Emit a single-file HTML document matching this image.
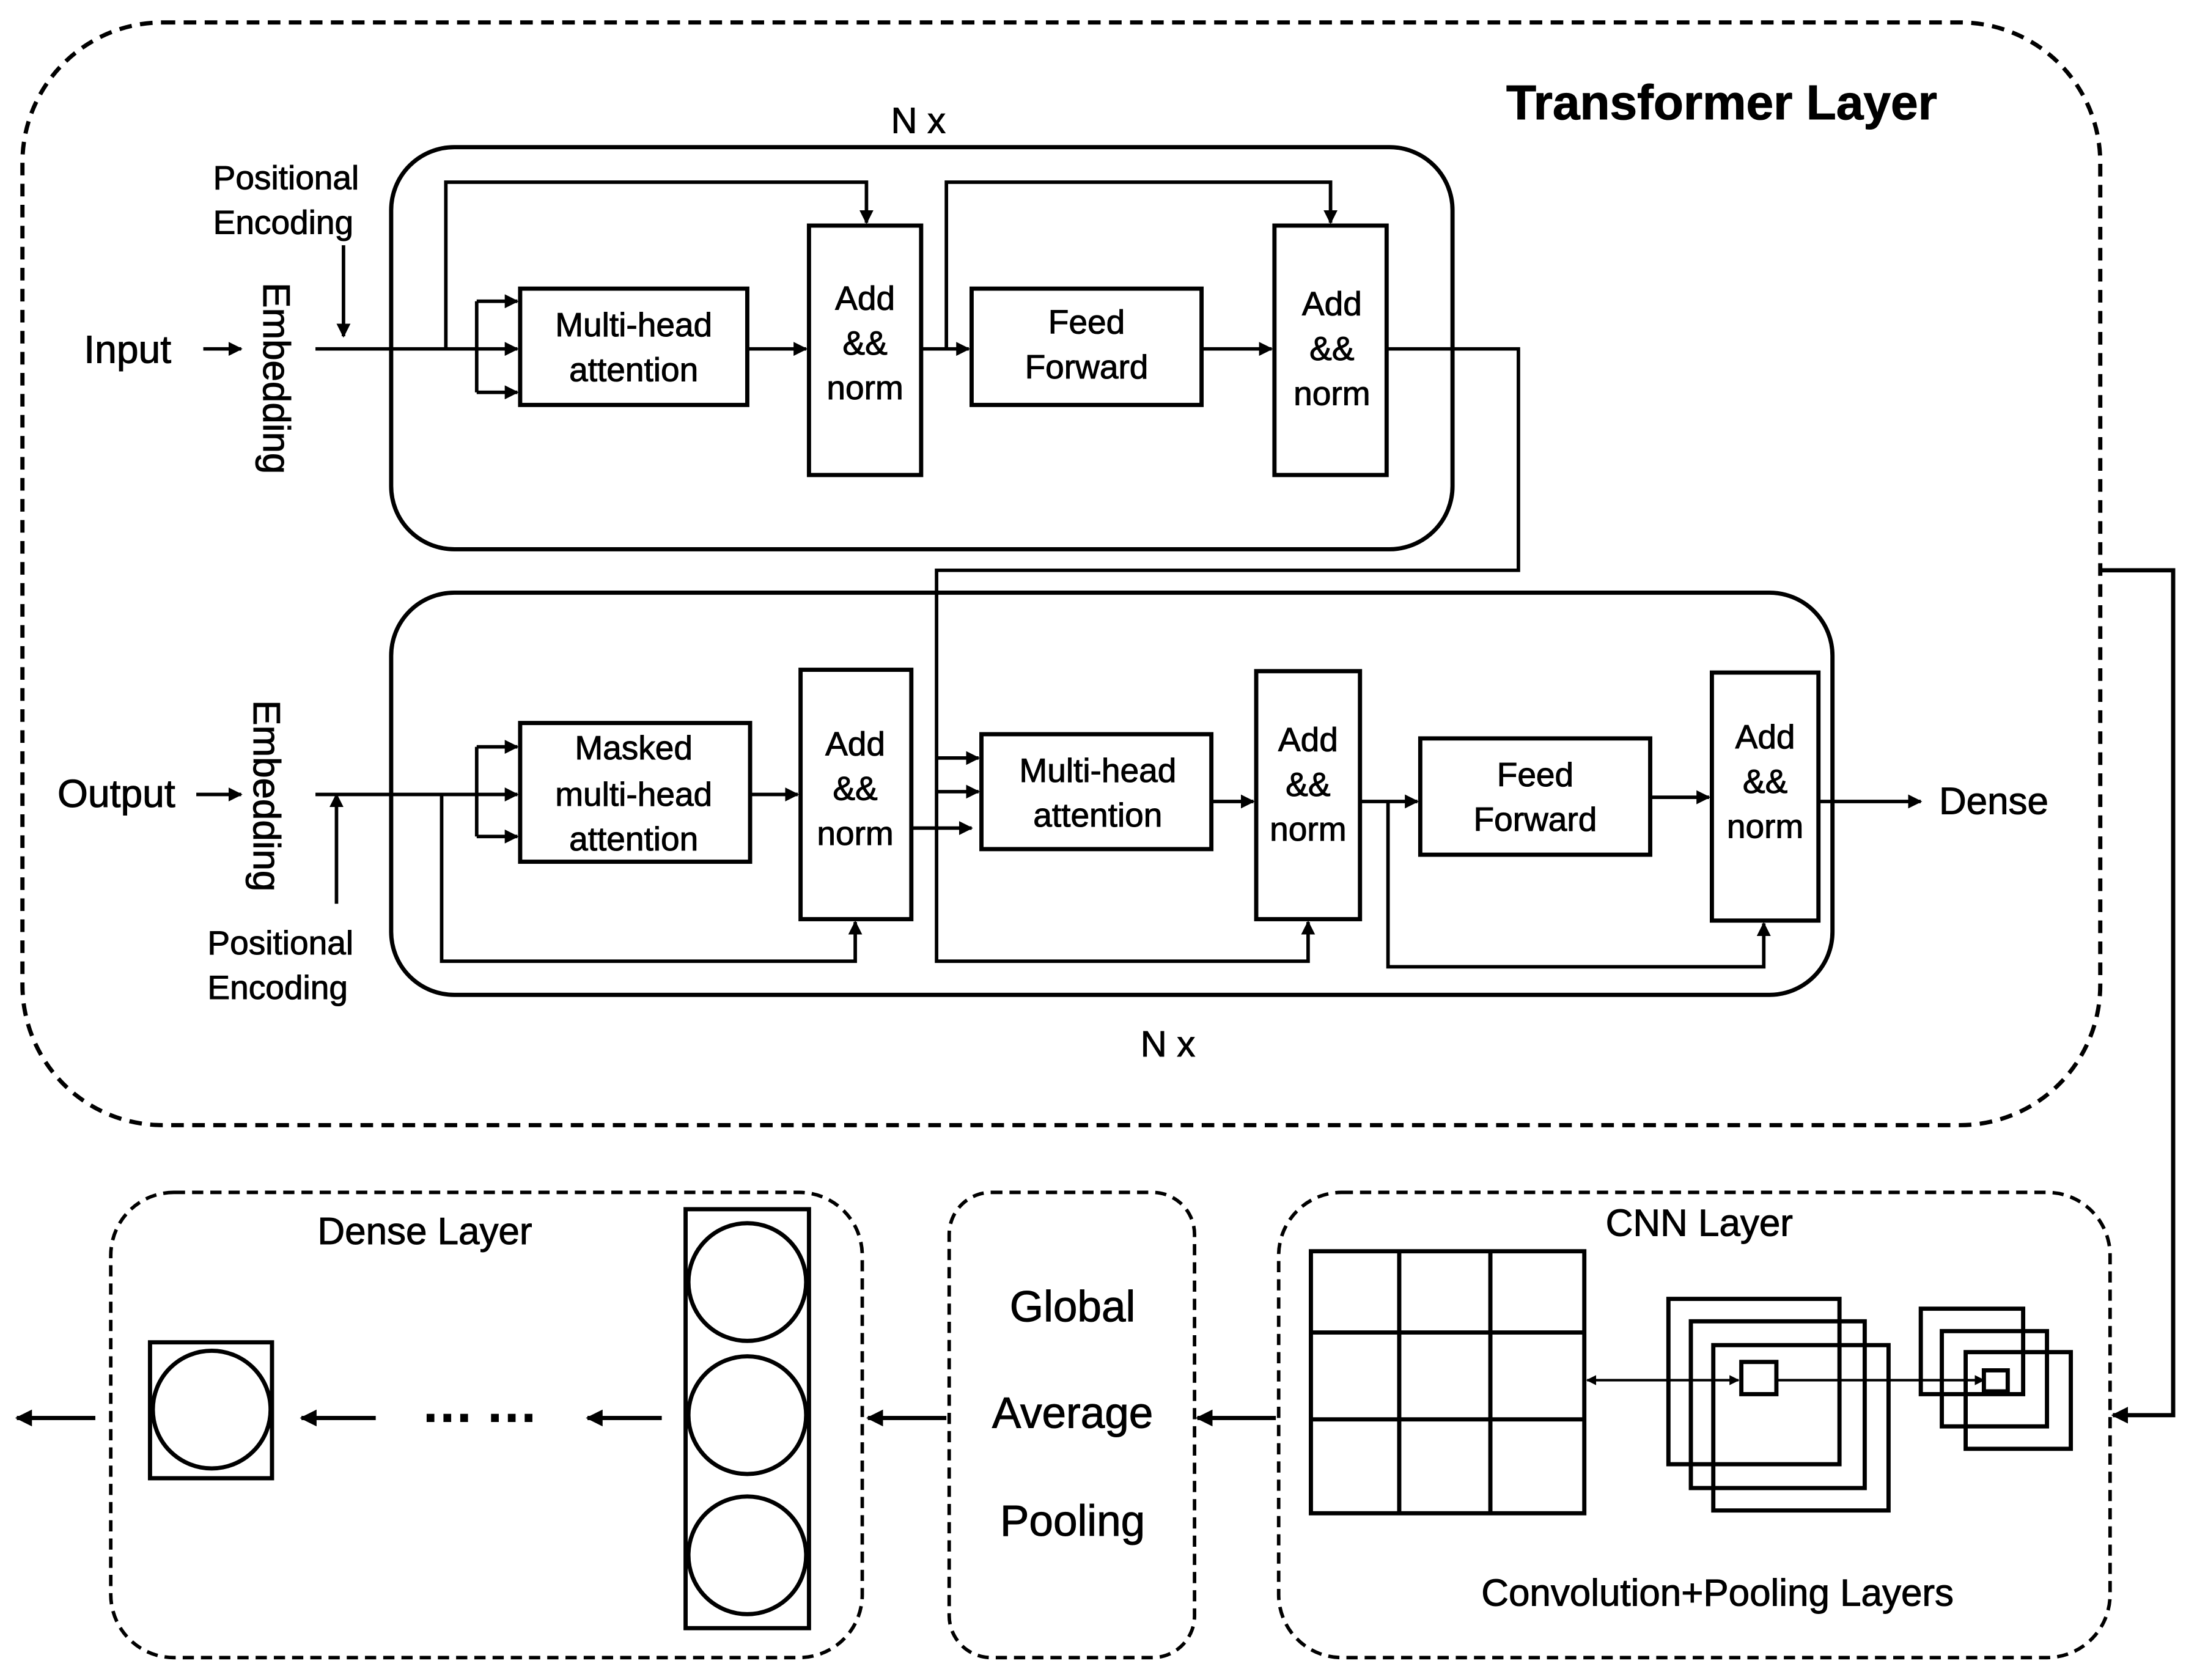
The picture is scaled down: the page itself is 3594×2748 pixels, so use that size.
<!DOCTYPE html>
<html><head><meta charset="utf-8"><style>
html,body{margin:0;padding:0;background:#fff;}
svg{display:block;}
text{font-family:"Liberation Sans",sans-serif;fill:#000;stroke:#000;stroke-width:0.45;}
</style></head><body>
<svg width="3594" height="2748" viewBox="0 0 1567 1199" preserveAspectRatio="none" xmlns="http://www.w3.org/2000/svg">
<defs>
<marker id="a" viewBox="0 0 10 10" refX="9" refY="5" markerWidth="4" markerHeight="4" orient="auto-start-reverse"><path d="M0,0 L10,5 L0,10 z" fill="#000"/></marker>
</defs>
<g fill="none" stroke="#000" stroke-width="3">
<rect x="16" y="16" width="1482" height="787" rx="100" stroke-dasharray="9,6"/>
<rect x="279" y="105" width="757" height="287" rx="45"/>
<rect x="279" y="423" width="1028" height="287" rx="45"/>
<rect x="912" y="851" width="593" height="332" rx="45" stroke-dasharray="8,5" stroke-width="2.5"/>
<rect x="677" y="851" width="175" height="332" rx="30" stroke-dasharray="8,5" stroke-width="2.5"/>
<rect x="79" y="851" width="536" height="332" rx="45" stroke-dasharray="8,5" stroke-width="2.5"/>
<rect x="371" y="206" width="162" height="83"/>
<rect x="577" y="161" width="80" height="178"/>
<rect x="693" y="206" width="164" height="83"/>
<rect x="909" y="161" width="80" height="178"/>
<rect x="371" y="516" width="164" height="99"/>
<rect x="571" y="478" width="79" height="178"/>
<rect x="700" y="524" width="164" height="82"/>
<rect x="896" y="479" width="74" height="177"/>
<rect x="1013" y="527" width="164" height="83"/>
<rect x="1221" y="480" width="76" height="177"/>
</g>
<g fill="none" stroke="#000" stroke-width="2.5">
<line x1="245" y1="175" x2="245" y2="240" marker-end="url(#a)"/>
<line x1="145" y1="249" x2="172" y2="249" marker-end="url(#a)"/>
<line x1="225" y1="249" x2="340" y2="249"/>
<line x1="340" y1="215" x2="340" y2="280"/>
<line x1="340" y1="215" x2="369" y2="215" marker-end="url(#a)"/>
<line x1="340" y1="249" x2="369" y2="249" marker-end="url(#a)"/>
<line x1="340" y1="280" x2="369" y2="280" marker-end="url(#a)"/>
<line x1="533" y1="249" x2="575" y2="249" marker-end="url(#a)"/>
<polyline points="318,249 318,130 618,130 618,159" marker-end="url(#a)"/>
<line x1="657" y1="249" x2="691" y2="249" marker-end="url(#a)"/>
<polyline points="675,249 675,130 949,130 949,159" marker-end="url(#a)"/>
<line x1="857" y1="249" x2="907" y2="249" marker-end="url(#a)"/>
<polyline points="989,249 1083,249 1083,407 668,407 668,590"/>
<line x1="668" y1="541" x2="698" y2="541" marker-end="url(#a)"/>
<line x1="668" y1="565" x2="698" y2="565" marker-end="url(#a)"/>
<line x1="140" y1="567" x2="172" y2="567" marker-end="url(#a)"/>
<line x1="240" y1="645" x2="240" y2="567" marker-end="url(#a)"/>
<line x1="225" y1="567" x2="340" y2="567"/>
<line x1="340" y1="533" x2="340" y2="597"/>
<line x1="340" y1="533" x2="369" y2="533" marker-end="url(#a)"/>
<line x1="340" y1="567" x2="369" y2="567" marker-end="url(#a)"/>
<line x1="340" y1="597" x2="369" y2="597" marker-end="url(#a)"/>
<polyline points="315,567 315,686 610,686 610,658" marker-end="url(#a)"/>
<line x1="535" y1="567" x2="569" y2="567" marker-end="url(#a)"/>
<line x1="650" y1="591" x2="693" y2="591" marker-end="url(#a)"/>
<polyline points="668,590 668,686 933,686 933,658" marker-end="url(#a)"/>
<line x1="864" y1="572" x2="894" y2="572" marker-end="url(#a)"/>
<line x1="970" y1="572" x2="1011" y2="572" marker-end="url(#a)"/>
<polyline points="990,572 990,690 1258,690 1258,659" marker-end="url(#a)"/>
<line x1="1177" y1="569" x2="1219" y2="569" marker-end="url(#a)"/>
<line x1="1297" y1="572" x2="1370" y2="572" marker-end="url(#a)"/>
<polyline points="1498,407 1550,407 1550,1010 1507,1010" marker-end="url(#a)" stroke-width="3"/>
<line x1="910" y1="1012" x2="854" y2="1012" marker-end="url(#a)" stroke-width="3"/>
<line x1="675" y1="1012" x2="619" y2="1012" marker-end="url(#a)" stroke-width="3"/>
<line x1="472" y1="1012" x2="419" y2="1012" marker-end="url(#a)" stroke-width="3"/>
<line x1="268" y1="1012" x2="215" y2="1012" marker-end="url(#a)" stroke-width="3"/>
<line x1="68" y1="1012" x2="12" y2="1012" marker-end="url(#a)" stroke-width="3"/>
<rect x="935" y="893" width="195" height="187" stroke-width="3"/>
<line x1="998" y1="893" x2="998" y2="1080" stroke-width="3"/>
<line x1="1063" y1="893" x2="1063" y2="1080" stroke-width="3"/>
<line x1="935" y1="951" x2="1130" y2="951" stroke-width="3"/>
<line x1="935" y1="1013" x2="1130" y2="1013" stroke-width="3"/>
<rect x="1190" y="927" width="122" height="118" stroke-width="3"/>
<rect x="1206" y="943" width="124" height="119" stroke-width="3"/>
<rect x="1222" y="960" width="125" height="118" stroke-width="3"/>
<rect x="1242" y="972" width="25" height="23" stroke-width="3"/>
<line x1="1132" y1="985" x2="1240" y2="985" marker-start="url(#a)" marker-end="url(#a)" stroke-width="1.8"/>
<line x1="1267" y1="985" x2="1415" y2="985" marker-end="url(#a)" stroke-width="1.8"/>
<rect x="1370" y="934" width="73" height="61" stroke-width="3"/>
<rect x="1385" y="950" width="75" height="68" stroke-width="3"/>
<rect x="1402" y="965" width="75" height="69" stroke-width="3"/>
<rect x="1415" y="978" width="17" height="15" stroke-width="3"/>
<rect x="489" y="863" width="88" height="299" stroke-width="3"/>
<circle cx="533" cy="915" r="42" stroke-width="3"/>
<circle cx="533" cy="1010" r="42" stroke-width="3"/>
<circle cx="533" cy="1110" r="42" stroke-width="3"/>
<rect x="107" y="958" width="87" height="97" stroke-width="3"/>
<circle cx="151" cy="1006" r="42" stroke-width="3"/>
</g>
<g font-size="24" text-anchor="middle">
<text x="1228" y="85" font-size="35" font-weight="bold">Transformer Layer</text>
<text x="655" y="95" font-size="26">N x</text>
<text x="833" y="754" font-size="26">N x</text>
<text x="152" y="135" text-anchor="start">Positional</text>
<text x="152" y="167" text-anchor="start">Encoding</text>
<text x="148" y="681" text-anchor="start">Positional</text>
<text x="148" y="713" text-anchor="start">Encoding</text>
<text x="91" y="259" font-size="28">Input</text>
<text x="83" y="576" font-size="28">Output</text>
<text x="1422" y="581" font-size="27">Dense</text>
<text transform="translate(188,270) rotate(90)" font-size="27">Embedding</text>
<text transform="translate(181,568) rotate(90)" font-size="27">Embedding</text>
<text x="452" y="240">Multi-head</text>
<text x="452" y="272">attention</text>
<text x="617" y="221">Add</text><text x="617" y="253">&amp;&amp;</text><text x="617" y="285">norm</text>
<text x="775" y="238">Feed</text><text x="775" y="270">Forward</text>
<text x="950" y="225">Add</text><text x="950" y="257">&amp;&amp;</text><text x="950" y="289">norm</text>
<text x="452" y="542">Masked</text><text x="452" y="575">multi-head</text><text x="452" y="607">attention</text>
<text x="610" y="539">Add</text><text x="610" y="571">&amp;&amp;</text><text x="610" y="603">norm</text>
<text x="783" y="558">Multi-head</text><text x="783" y="590">attention</text>
<text x="933" y="536">Add</text><text x="933" y="568">&amp;&amp;</text><text x="933" y="600">norm</text>
<text x="1095" y="561">Feed</text><text x="1095" y="593">Forward</text>
<text x="1259" y="534">Add</text><text x="1259" y="566">&amp;&amp;</text><text x="1259" y="598">norm</text>
<text x="1212" y="882" font-size="27">CNN Layer</text>
<text x="1225" y="1146" font-size="27">Convolution+Pooling Layers</text>
<text x="765" y="943" font-size="31">Global</text>
<text x="765" y="1019" font-size="31">Average</text>
<text x="765" y="1096" font-size="31">Pooling</text>
<text x="303" y="888" font-size="27">Dense Layer</text>
<text x="343" y="1024" font-size="36" font-weight="bold">··· ···</text>
</g>
</svg>
</body></html>
